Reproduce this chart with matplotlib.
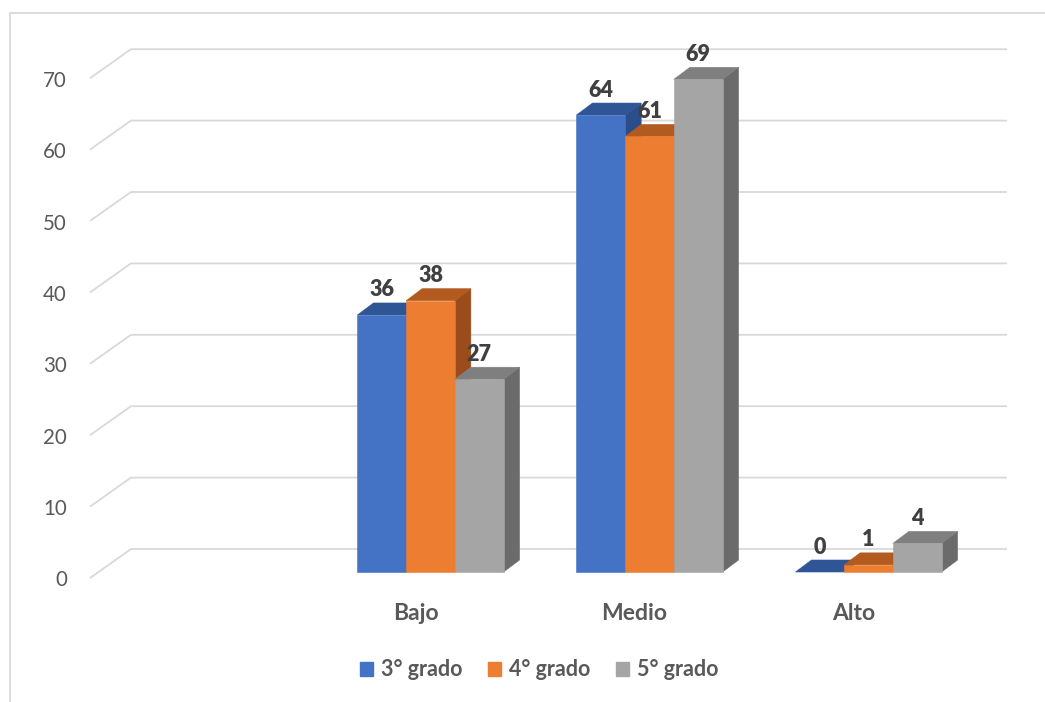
import matplotlib
matplotlib.use("Agg")
import matplotlib.pyplot as plt
from matplotlib.patches import Polygon, Rectangle, Patch
import numpy as np

# ---------------- data ----------------
categories = ["", "Bajo", "Medio", "Alto"]
series_names = ["3° grado", "4° grado", "5° grado"]
grado3 = [np.nan, 36, 64, 0]
grado4 = [np.nan, 38, 61, 1]
grado5 = [np.nan, 27, 69, 4]
y_ticks = [0, 10, 20, 30, 40, 50, 60, 70]

# ---------------- style ----------------
front_cols = ["#4472C4", "#ED7D31", "#A5A5A5"]
top_cols = ["#2F5597", "#B35A1F", "#7F7F7F"]
side_cols = ["#2B4D8A", "#9A4C1A", "#6B6B6B"]
grid_col = "#D9D9D9"
text_col = "#595959"
label_col = "#404040"
FONT = "Lato"

W, H = 1045, 702
fig = plt.figure(figsize=(W / 100, H / 100), dpi=100)
ax = fig.add_axes([0, 0, 1, 1])
ax.axis("off")

# mapping: pixel geometry of the front plane
X0PX, PX_CAT = 90.0, 219.0      # px of x=-0.5, px per category
Y0PX, PX_VAL = 578.0, 7.14      # px of value 0 (front), px per unit
ax.set_xlim(-0.5 - X0PX / PX_CAT, -0.5 + (W - X0PX) / PX_CAT)
ax.set_ylim(-(H - Y0PX) / PX_VAL, Y0PX / PX_VAL)

def dx(px):
    return px / PX_CAT

def dy(px):
    return px / PX_VAL

# wall depth & bar offsets (px -> data)
WALL_DX, WALL_DY = dx(41), dy(29)
BAR_FX, BAR_FY = dx(12), dy(6)
BAR_DX, BAR_DY = dx(16), dy(12)

n_cat = len(categories)
x_left, x_right = -0.5, n_cat - 0.5

# gridlines (left side wall diagonal + back wall horizontal)
for t in y_ticks:
    ax.plot([x_left, x_left + WALL_DX, x_right + WALL_DX],
            [t, t + WALL_DY, t + WALL_DY],
            color=grid_col, lw=1.3, zorder=1, solid_capstyle="butt")
    ax.text(x_left - dx(23), t - dy(2.5), str(t), ha="right", va="center",
            fontsize=14.8, color=text_col, family=FONT)

# category labels
for i, c in enumerate(categories):
    ax.text(i - dx(3), -dy(36), c, ha="center", va="center",
            fontsize=16.5, fontweight="bold", color=text_col, family=FONT)

# bars
series = [grado3, grado4, grado5]
bw = dx(48.7)
group_w = bw * len(series)
for i in range(n_cat):
    for s, vals in enumerate(series):
        v = vals[i]
        if np.isnan(v):
            continue
        xl = i + BAR_FX - group_w / 2 + s * bw
        xr = xl + bw
        yb = BAR_FY
        yt = BAR_FY + v
        z = 3 + i * 10 + s
        # side
        ax.add_patch(Polygon([(xr, yb), (xr, yt), (xr + BAR_DX, yt + BAR_DY),
                              (xr + BAR_DX, yb + BAR_DY)], closed=True,
                             facecolor=side_cols[s], edgecolor=side_cols[s],
                             lw=0.4, zorder=z))
        # top
        ax.add_patch(Polygon([(xl, yt), (xr, yt), (xr + BAR_DX, yt + BAR_DY),
                              (xl + BAR_DX, yt + BAR_DY)], closed=True,
                             facecolor=top_cols[s], edgecolor=top_cols[s],
                             lw=0.4, zorder=z))
        # front
        if v > 0:
            ax.add_patch(Rectangle((xl, yb), bw, v, facecolor=front_cols[s],
                                   edgecolor=front_cols[s], lw=0.4, zorder=z))
        # data label
        ax.text((xl + xr) / 2, yt + dy(25), f"{v:g}", ha="center", va="center",
                fontsize=15.5, fontweight="heavy", color=label_col,
                family=FONT, zorder=100)

# legend
handles = [Patch(facecolor=c, edgecolor=c) for c in front_cols]
leg = fig.legend(handles, series_names, loc="center",
                 bbox_to_anchor=(539 / W, 1 - 670 / H), ncol=3, frameon=False,
                 handlelength=0.62, handleheight=0.62, handletextpad=0.35,
                 columnspacing=1.2,
                 prop={"family": FONT, "size": 15.5, "weight": "bold"})
for t in leg.get_texts():
    t.set_color(text_col)

# chart border
fig.patches.append(Rectangle((10 / W, -0.1), 1.2, (H - 13) / H + 0.1,
                             transform=fig.transFigure, fill=False,
                             edgecolor=grid_col, lw=1.3))

fig.savefig("out.png", dpi=100)
